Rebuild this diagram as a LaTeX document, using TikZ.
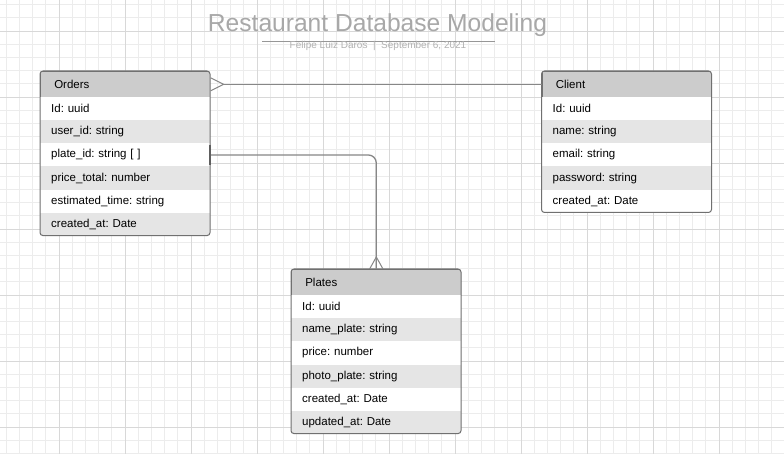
\documentclass[tikz,border=0pt]{standalone}
\usepackage{fontspec}
\setmainfont{Liberation Sans}
\frenchspacing
\definecolor{gridminor}{RGB}{236,236,236}
\definecolor{gridmajor}{RGB}{216,216,216}
\definecolor{hdr}{RGB}{204,204,204}
\definecolor{alt}{RGB}{229,229,229}
\definecolor{boxborder}{RGB}{112,112,112}
\definecolor{conn}{RGB}{135,135,135}
\definecolor{titlegray}{RGB}{168,168,168}
\definecolor{subgray}{RGB}{178,178,178}
\tikzset{
  hdrcell/.style={fill=hdr, draw=boxborder, line width=0.6pt, anchor=north west, minimum width=170pt, minimum height=26pt, inner sep=0pt, text width=142pt, align=left, font=\fontsize{11.5}{13}\selectfont},
  rowcell/.style={anchor=north west, minimum width=170pt, minimum height=23.1pt, inner sep=0pt, text width=148pt, align=left, font=\fontsize{11.5}{13}\selectfont},
  whiterow/.style={rowcell, fill=white},
  greyrow/.style={rowcell, fill=alt},
  boxframe/.style={draw=boxborder, line width=1pt, rounded corners=3pt},
  connline/.style={draw=conn, line width=1.3pt},
  onebar/.style={draw=conn!70!black, line width=2pt}
}
\begin{document}
\begin{tikzpicture}[x=1pt,y=-1pt]
\useasboundingbox (0,0) rectangle (784,454);
\fill[white] (0,0) rectangle (784,454);
% grid
\foreach \i in {-4,...,55} {\draw[gridminor, line width=0.8pt] ({59+13.2*\i},0) -- ({59+13.2*\i},454);}
\foreach \j in {-22,...,12} {\draw[gridminor, line width=0.8pt] (0,{295+13.2*\j}) -- (784,{295+13.2*\j});}
\foreach \i in {0,...,10} {\draw[gridmajor, line width=0.8pt] ({59+66*\i},0) -- ({59+66*\i},454);}
\foreach \j in {-4,...,2} {\draw[gridmajor, line width=0.8pt] (0,{295+66*\j}) -- (784,{295+66*\j});}

% title
\node[anchor=base, text=titlegray, font=\fontsize{24.6}{28}\selectfont, inner sep=0pt] (title) at (377.5,31.7) {Restaurant Database Modeling};
\draw[titlegray!90!black, line width=0.8pt] (262,41) -- (495,41);
\node[text=subgray, font=\fontsize{10}{11}\selectfont, inner sep=0pt] (subtitle) at (378,46.3) {Felipe Luiz Daros\ \ |\ \ September 6, 2021};

% Orders
\begin{scope}
\clip[rounded corners=3pt] (40,71) rectangle (210,235.6);
\node[hdrcell] (oh) at (40,71) {Orders};
\node[whiterow] (o1) at (40,97) {Id: uuid};
\node[greyrow] (o2) at (40,120.1) {user\_id: string};
\node[whiterow] (o3) at (40,143.2) {plate\_id: string [ ]};
\node[greyrow] (o4) at (40,166.3) {price\_total: number};
\node[whiterow] (o5) at (40,189.4) {estimated\_time: string};
\node[greyrow] (o6) at (40,212.5) {created\_at: Date};
\end{scope}
\draw[boxframe] (40,71) rectangle (210,235.6);

% Client
\begin{scope}
\clip[rounded corners=3pt] (541.5,71) rectangle (711.5,212.5);
\node[hdrcell] (ch) at (541.5,71) {Client};
\node[whiterow] (c1) at (541.5,97) {Id: uuid};
\node[greyrow] (c2) at (541.5,120.1) {name: string};
\node[whiterow] (c3) at (541.5,143.2) {email: string};
\node[greyrow] (c4) at (541.5,166.3) {password: string};
\node[whiterow] (c5) at (541.5,189.4) {created\_at: Date};
\end{scope}
\draw[boxframe] (541.5,71) rectangle (711.5,212.5);

% Plates
\begin{scope}
\clip[rounded corners=3pt] (291,269) rectangle (461,433.6);
\node[hdrcell] (ph) at (291,269) {Plates};
\node[whiterow] (p1) at (291,295) {Id: uuid};
\node[greyrow] (p2) at (291,318.1) {name\_plate: string};
\node[whiterow] (p3) at (291,341.2) {price: number};
\node[greyrow] (p4) at (291,364.3) {photo\_plate: string};
\node[whiterow] (p5) at (291,387.4) {created\_at: Date};
\node[greyrow] (p6) at (291,410.5) {updated\_at: Date};
\end{scope}
\draw[boxframe] (291,269) rectangle (461,433.6);

% connector Orders -- Client (many at Orders)
\draw[connline] ([xshift=13pt]oh.east) -- (ch.west);
\draw[connline, line width=1pt] ([yshift=6.5pt]oh.east) -- ([xshift=13pt]oh.east) -- ([yshift=-6.5pt]oh.east);

% connector Orders.plate_id -- Plates (many at Plates)
\draw[connline, rounded corners=8pt] (o3.east) -| (ph.north);
\draw[connline, line width=1pt] ([xshift=-6.7pt]ph.north) -- ([yshift=12pt]ph.north) -- ([xshift=6.7pt]ph.north);
\draw[onebar] ([yshift=10pt]o3.east) -- ([yshift=-10pt]o3.east);
\end{tikzpicture}
\end{document}
